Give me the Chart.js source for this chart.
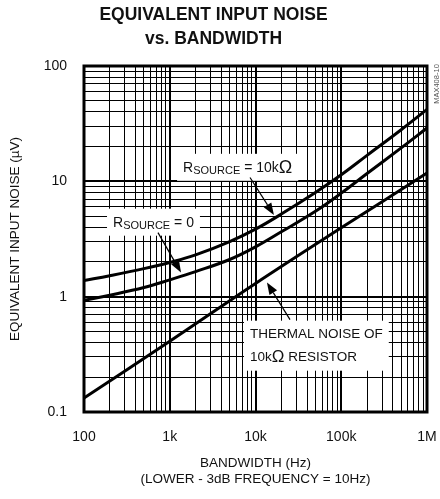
<!DOCTYPE html>
<html>
<head>
<meta charset="utf-8">
<script src="https://cdn.jsdelivr.net/npm/chart.js@4.4.1/dist/chart.umd.min.js"></script>
<style>
  html, body { margin: 0; padding: 0; background: #fff; }
  #wrap { width: 440px; height: 499px; }
</style>
</head>
<body>
<div id="wrap"><canvas id="noise"></canvas></div>
<script>
// bandwidth (Hz) and equivalent input noise (uV)
const bandwidth = [100, 200, 500, 1000, 2000, 5000, 10000, 20000, 50000, 100000, 200000, 500000, 1000000];
const noiseR10k = [1.38, 1.52, 1.75, 1.98, 2.3, 3.0, 3.85, 5.2, 8.0, 11.4, 16.8, 28, 42];
const noiseR0 = [0.93, 1.03, 1.2, 1.4, 1.65, 2.1, 2.7, 3.65, 5.5, 7.9, 11.7, 19.5, 29];
const thermalBw = [100, 1000, 10000, 100000, 1000000];
const thermalNoise = [0.132, 0.41, 1.3, 3.95, 11.8];

const xTickValues = [100, 1000, 10000, 100000, 1000000];
const xTickLabels = ['100', '1k', '10k', '100k', '1M'];
const yTickValues = [0.1, 1, 10, 100];
const yTickLabels = ['0.1', '1', '10', '100'];

const FONT = '"Liberation Sans", Arial, Helvetica, sans-serif';

// callouts: text anchor, arrow tail and tip in data units (Hz, uV)
const notes = [
  { at: [1430, 13.1], tail: [8630, 10.8], tip: [16400, 5.1],
    lines: [[['R', 14, 0], ['SOURCE', 11, 3], [' = 10k', 14, 0], ['\u03A9', 18, 0]]] },
  { at: [218, 4.38], tail: [729, 3.59], tip: [1353, 1.62],
    lines: [[['R', 14, 0], ['SOURCE', 11, 3], [' = 0', 14, 0]]] },
  { at: [8630, 0.468], tail: [25250, 0.632], tip: [13600, 1.33],
    lines: [[['THERMAL NOISE OF', 13.5, 0]], [['10k', 13.5, 0], ['\u03A9', 17, 0], [' RESISTOR', 13.5, 0]]] }
];

function logTicks(scale) {
  const t = [];
  const e0 = Math.round(Math.log10(scale.min)), e1 = Math.round(Math.log10(scale.max));
  for (let e = e0; e <= e1; e++) {
    for (let m = 1; m < 10; m++) {
      const v = parseFloat((m * Math.pow(10, e)).toPrecision(6));
      if (v >= scale.min * 0.999 && v <= scale.max * 1.001) t.push({ value: v, major: m === 1 });
    }
  }
  scale.ticks = t;
}

function labelFor(values, labels, v) {
  const i = values.findIndex(x => Math.abs(x - v) / x < 1e-6);
  return i < 0 ? '' : labels[i];
}

const calloutPlugin = {
  id: 'callouts',
  afterDatasetsDraw(chart) {
    const { ctx, scales: { x, y } } = chart;
    const px = p => [x.getPixelForValue(p[0]), y.getPixelForValue(p[1])];
    ctx.save();
    notes.forEach(n => {
      const [ax, ay] = px(n.at);
      const gap = 23;
      const widths = n.lines.map(line => line.reduce((w, [txt, size]) => {
        ctx.font = size + 'px ' + FONT;
        return w + ctx.measureText(txt).width;
      }, 0));
      const w = Math.max(...widths);
      ctx.fillStyle = '#fff';
      ctx.fillRect(ax - 6, ay - 14, w + 12, 27 + gap * (n.lines.length - 1));
      ctx.fillStyle = '#111';
      ctx.textBaseline = 'middle';
      ctx.textAlign = 'left';
      n.lines.forEach((line, li) => {
        let cx = ax;
        line.forEach(([txt, size, dy]) => {
          ctx.font = size + 'px ' + FONT;
          ctx.fillText(txt, cx, ay + li * gap + dy);
          cx += ctx.measureText(txt).width;
        });
      });
      // arrow
      const [tx, ty] = px(n.tail);
      const [hx, hy] = px(n.tip);
      const ang = Math.atan2(hy - ty, hx - tx);
      const len = 12, half = 4.5;
      ctx.strokeStyle = '#000';
      ctx.lineWidth = 1.2;
      ctx.beginPath();
      ctx.moveTo(tx, ty);
      ctx.lineTo(hx - Math.cos(ang) * len, hy - Math.sin(ang) * len);
      ctx.stroke();
      ctx.fillStyle = '#000';
      ctx.beginPath();
      ctx.moveTo(hx, hy);
      ctx.lineTo(hx - Math.cos(ang) * len - Math.sin(ang) * half, hy - Math.sin(ang) * len + Math.cos(ang) * half);
      ctx.lineTo(hx - Math.cos(ang) * len + Math.sin(ang) * half, hy - Math.sin(ang) * len - Math.cos(ang) * half);
      ctx.closePath();
      ctx.fill();
    });
    ctx.restore();
  },
  afterDraw(chart) {
    const { ctx, chartArea: a } = chart;
    ctx.save();
    ctx.strokeStyle = '#000';
    ctx.lineWidth = 3;
    ctx.strokeRect(a.left, a.top, a.right - a.left, a.bottom - a.top);
    // figure tag on the right edge
    ctx.translate(437, 84);
    ctx.rotate(-Math.PI / 2);
    ctx.font = '7.5px ' + FONT;
    ctx.fillStyle = '#555';
    ctx.textAlign = 'center';
    ctx.textBaseline = 'middle';
    ctx.fillText('MAX408-10', 0, 0);
    ctx.restore();
  }
};

const line = (xs, ys) => xs.map((b, i) => ({ x: b, y: ys[i] }));
const curve = { borderColor: '#000', backgroundColor: '#000', borderWidth: 3, pointRadius: 0, tension: 0.4, fill: false };

new Chart(document.getElementById('noise'), {
  type: 'line',
  data: {
    datasets: [
      { label: 'RSOURCE = 10k', data: line(bandwidth, noiseR10k), ...curve },
      { label: 'RSOURCE = 0', data: line(bandwidth, noiseR0), ...curve },
      { label: 'Thermal noise of 10k resistor', data: line(thermalBw, thermalNoise), ...curve }
    ]
  },
  options: {
    responsive: true,
    maintainAspectRatio: false,
    animation: false,
    layout: { padding: { left: 0, right: 13, top: 0, bottom: 0 } },
    plugins: {
      legend: { display: false },
      tooltip: { enabled: false },
      title: {
        display: true,
        text: ['EQUIVALENT INPUT NOISE', 'vs. BANDWIDTH'],
        color: '#111',
        font: { family: FONT, size: 17.5, weight: 'bold', lineHeight: 24 / 17.5 },
        padding: { top: 3.5, bottom: 14.5 }
      }
    },
    scales: {
      x: {
        type: 'logarithmic',
        min: 100,
        max: 1000000,
        afterBuildTicks: logTicks,
        afterFit: s => { s.height = 87; s.paddingLeft = 0; s.paddingRight = 0; },
        border: { display: false },
        grid: {
          color: '#000',
          drawTicks: false,
          lineWidth: c => (c.tick && c.tick.major ? 2 : 1)
        },
        ticks: {
          autoSkip: false,
          maxRotation: 0,
          padding: 16.5,
          color: '#111',
          font: { family: FONT, size: 14 },
          callback: (v) => labelFor(xTickValues, xTickLabels, v)
        },
        title: {
          display: true,
          text: ['BANDWIDTH (Hz)', '(LOWER - 3dB FREQUENCY = 10Hz)'],
          color: '#111',
          font: { family: FONT, size: 13.5, lineHeight: 16 / 13.5 },
          padding: { top: 0, bottom: 12 }
        }
      },
      y: {
        type: 'logarithmic',
        min: 0.1,
        max: 100,
        afterBuildTicks: logTicks,
        afterFit: s => { s.width = 84; s.paddingTop = 0; s.paddingBottom = 0; },
        border: { display: false },
        grid: {
          color: '#000',
          drawTicks: false,
          lineWidth: c => (c.tick && c.tick.major ? 2 : 1)
        },
        ticks: {
          autoSkip: false,
          padding: 17,
          color: '#111',
          font: { family: FONT, size: 14 },
          callback: (v) => labelFor(yTickValues, yTickLabels, v)
        },
        title: {
          display: true,
          text: 'EQUIVALENT INPUT NOISE (\u00B5V)',
          color: '#111',
          font: { family: FONT, size: 13.5, lineHeight: 16 / 13.5 },
          padding: { top: 7, bottom: 0 }
        }
      }
    }
  },
  plugins: [calloutPlugin]
});
</script>
</body>
</html>
